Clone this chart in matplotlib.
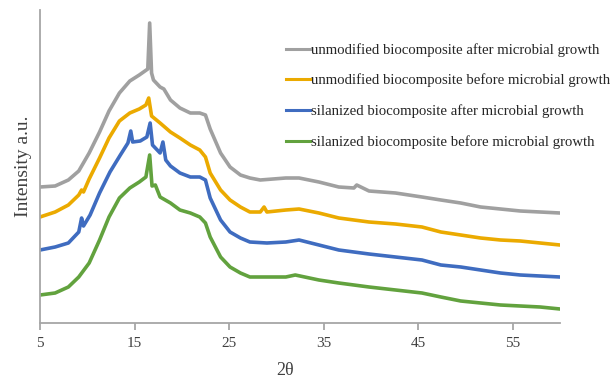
import matplotlib
matplotlib.use('Agg')
import matplotlib.pyplot as plt

matplotlib.rc('font', family='Liberation Serif')

# XRD patterns, intensity in arbitrary units (curves offset as in the source)
x_gray = [5, 6.6, 8.0, 9.1, 10.2, 11.3, 12.3, 13.4, 14.5, 15.5, 16.1, 16.4, 16.6, 16.8, 17.0,
          17.7, 18.1, 18.8, 19.8, 20.9, 21.9, 22.5, 23.0, 24.1, 25.1, 26.2, 27.2, 28.3, 31.0,
          32.4, 34.5, 36.6, 38.2, 38.5, 39.8, 42.6, 45.4, 47.4, 49.5, 51.6, 53.7, 55.8, 57.9, 60]
y_gray = [136, 137, 143, 152, 170, 191, 212, 230, 242, 248, 252, 254, 300, 250, 243,
          236, 234, 223, 215, 210, 210, 208, 194, 170, 156, 148, 145, 143, 145,
          145, 141, 136, 135, 138, 132, 130, 126, 123, 120, 116, 114, 112, 111, 110]

x_yellow = [5, 6.6, 8.0, 9.1, 9.4, 9.6, 10.2, 11.3, 12.3, 13.4, 14.5, 15.5, 16.2, 16.5, 16.8,
            17.7, 18.8, 19.8, 20.9, 21.9, 22.5, 23.0, 24.1, 25.1, 26.2, 27.2, 28.3, 28.7, 29.0,
            31.0, 32.4, 34.5, 36.6, 39.8, 42.6, 45.4, 47.4, 49.5, 51.6, 53.7, 55.8, 57.9, 60]
y_yellow = [106, 111, 118, 128, 133, 131, 144, 165, 185, 202, 210, 214, 218, 225, 207,
            200, 191, 185, 178, 173, 166, 150, 133, 123, 116, 111, 111, 116, 111,
            113, 114, 110, 105, 101, 99, 96, 91, 88, 85, 83, 82, 80, 78]

x_blue = [5, 6.6, 8.0, 9.1, 9.4, 9.6, 10.3, 11.3, 12.4, 13.5, 14.3, 14.6, 14.8, 15.6, 16.3,
          16.65, 16.9, 17.7, 18.0, 18.3, 18.8, 19.8, 20.9, 21.9, 22.5, 23.0, 24.1, 25.1, 26.2,
          27.2, 29.0, 31.0, 32.4, 34.5, 36.6, 39.8, 42.6, 45.4, 47.4, 49.5, 51.6, 53.7, 55.8,
          57.9, 60]
y_blue = [73, 76, 80, 91, 105, 97, 108, 130, 151, 168, 180, 192, 181, 182, 186,
          200, 178, 170, 181, 163, 157, 150, 146, 146, 143, 125, 103, 91, 85,
          81, 80, 81, 83, 78, 73, 69, 66, 63, 58, 56, 53, 50, 48,
          47, 46]

x_green = [5, 6.6, 8.0, 9.1, 10.2, 11.3, 12.3, 13.4, 14.5, 15.5, 16.2, 16.6, 16.85, 17.2,
           17.7, 18.8, 19.8, 20.9, 21.9, 22.5, 23.0, 24.1, 25.1, 26.2, 27.2, 28.3, 31.0, 32.0,
           34.5, 36.6, 39.8, 42.6, 45.4, 47.4, 49.5, 51.6, 53.7, 55.8, 57.9, 60]
y_green = [28, 30, 36, 46, 60, 83, 106, 125, 135, 141, 146, 168, 137, 138,
           126, 120, 113, 110, 106, 100, 86, 66, 56, 50, 46, 46, 46, 48,
           43, 40, 36, 33, 30, 26, 22, 20, 18, 17, 16, 14]

labels = ['unmodified biocomposite after microbial growth',
          'unmodified biocomposite before microbial growth',
          'silanized biocomposite after microbial growth',
          'silanized biocomposite before microbial growth']
xticks = [5, 15, 25, 35, 45, 55]

fig = plt.figure(figsize=(6.15, 3.8), dpi=100)
ax = fig.add_axes([40/615, 57/380, 520/615, 313/380])

ax.plot(x_gray, y_gray, color='#A0A0A0', lw=2.6, label=labels[0])
ax.plot(x_yellow, y_yellow, color='#EBAA00', lw=2.6, label=labels[1])
ax.plot(x_blue, y_blue, color='#3F6CC0', lw=2.6, label=labels[2])
ax.plot(x_green, y_green, color='#62A23E', lw=2.6, label=labels[3])

ax.set_xlim(5, 60)
ax.set_ylim(0, 313)
ax.set_xticks(xticks)
ax.set_yticks([])
for s in ['top', 'right']:
    ax.spines[s].set_visible(False)
ax.spines['left'].set_color('#A6A6A6')
ax.spines['bottom'].set_color('#A6A6A6')
ax.spines['left'].set_linewidth(1.3)
ax.spines['bottom'].set_linewidth(1.3)
ax.tick_params(axis='x', colors='#A6A6A6', length=5, width=1.3, labelsize=11,
               labelcolor='#404040', pad=5)

ax.set_xlabel('2θ', fontsize=13, color='#404040')
ax.xaxis.set_label_coords(245/520, -0.125)
ax.set_ylabel('Intensity a.u.', fontsize=14, color='#404040', labelpad=6)

leg = ax.legend(loc='upper left', bbox_to_anchor=(286/615, 337/380), bbox_transform=fig.transFigure,
                frameon=False, fontsize=10.6, handlelength=1.65, handletextpad=0.05,
                labelspacing=1.15, borderpad=0, borderaxespad=0, labelcolor='#262626')
for h in leg.get_lines():
    h.set_linewidth(2.2)

plt.savefig('out.png', dpi=100)
